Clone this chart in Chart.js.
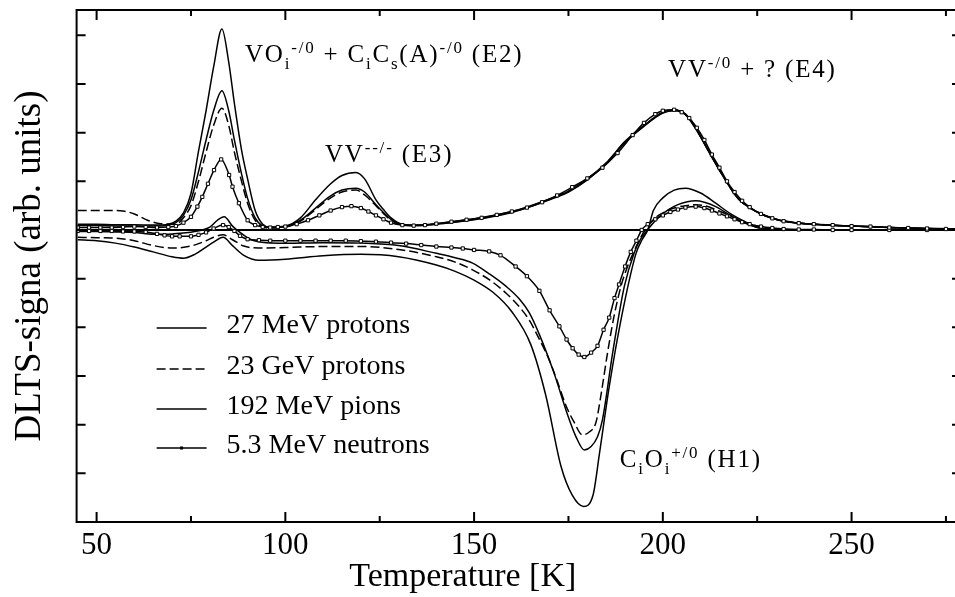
<!DOCTYPE html>
<html>
<head>
<meta charset="utf-8">
<script src="https://cdn.jsdelivr.net/npm/chart.js@4.4.1/dist/chart.umd.min.js"></script>
<style>
  html, body { margin: 0; padding: 0; background: #fff; overflow: hidden; }
  #wrap { width: 955px; height: 597px; }
  #dlts { display: block; }
</style>
</head>
<body>
<div id="wrap"><canvas id="dlts"></canvas></div>
<script>
// ================= DATA (T in K, signal in arb. units) =================
// electron-trap spectra (positive peaks E2, E3, E4)
const upT = [45, 50, 55, 60, 65, 69, 71, 73, 75, 77, 79, 81, 83.2, 85, 86.5, 88.4, 90, 92, 94, 96, 100, 104, 108, 112, 115, 118.7, 121, 124, 126, 128, 131, 135, 140, 150, 160, 170, 175, 180, 185, 190, 195, 200, 203, 206, 209, 212, 216, 220, 225, 230, 235, 240, 250, 260, 270, 279];
const p27Up = [0.12, 0.12, 0.11, 0.11, 0.1, 0.12, 0.18, 0.35, 0.75, 1.62, 2.45, 3.35, 4.13, 3.45, 2.6, 1.64, 1.05, 0.4, 0.12, 0.06, 0.08, 0.25, 0.62, 0.95, 1.12, 1.18, 1.05, 0.62, 0.42, 0.25, 0.12, 0.1, 0.13, 0.23, 0.38, 0.64, 0.8, 1.05, 1.38, 1.82, 2.15, 2.42, 2.47, 2.38, 2.05, 1.64, 1.1, 0.64, 0.37, 0.22, 0.15, 0.12, 0.08, 0.05, 0.03, 0.02];
const pionUp = [0.09, 0.09, 0.08, 0.08, 0.08, 0.1, 0.15, 0.3, 0.62, 1.2, 1.85, 2.45, 2.86, 2.45, 1.85, 1.15, 0.65, 0.25, 0.08, 0.05, 0.07, 0.2, 0.45, 0.7, 0.82, 0.86, 0.78, 0.52, 0.36, 0.22, 0.1, 0.09, 0.12, 0.21, 0.36, 0.62, 0.78, 1.03, 1.36, 1.8, 2.13, 2.4, 2.45, 2.37, 2.04, 1.63, 1.1, 0.64, 0.37, 0.22, 0.15, 0.12, 0.08, 0.05, 0.03, 0.02];

const gevUpT = [45, 50, 55, 57, 60, 63.5, 67, 71, 73, 75, 77, 79, 81, 83.2, 85, 86.5, 88.4, 90, 92, 94, 96, 100, 104, 108, 112, 115, 118.7, 121, 124, 126, 128, 131, 135, 140, 150, 160, 170, 175, 180, 185, 190, 195, 200, 203, 206, 209, 212, 216, 220, 225, 230, 235, 240, 250, 260, 270, 279];
const gevUp = [0.4, 0.4, 0.4, 0.39, 0.33, 0.2, 0.13, 0.12, 0.25, 0.5, 1.0, 1.6, 2.15, 2.5, 2.15, 1.6, 1.0, 0.55, 0.2, 0.06, 0.04, 0.06, 0.18, 0.42, 0.66, 0.78, 0.82, 0.72, 0.5, 0.34, 0.2, 0.1, 0.09, 0.12, 0.22, 0.37, 0.63, 0.79, 1.04, 1.37, 1.81, 2.14, 2.41, 2.46, 2.38, 2.05, 1.64, 1.1, 0.64, 0.37, 0.22, 0.15, 0.12, 0.08, 0.05, 0.03, 0.02];

const neutronUpT = [45, 48, 51, 54, 57, 60, 63, 66, 69, 71, 73, 75, 76.7, 78, 79.5, 81.1, 83, 85.1, 86, 87.7, 90, 92, 94, 96, 98, 100, 103, 106, 109, 112, 115, 117.5, 120, 122, 124, 126, 128, 131, 134, 137, 140, 144, 148, 152, 156, 160, 164, 168, 172, 176, 180, 184, 188, 192, 195, 198, 200, 203, 205, 207, 209, 211, 213, 215, 217, 219, 221, 223, 226, 229, 232, 236, 240, 245, 250, 255, 260, 265, 270, 275, 279];
const neutronUp = [0.05, 0.05, 0.05, 0.05, 0.06, 0.07, 0.06, 0.05, 0.06, 0.08, 0.15, 0.27, 0.48, 0.68, 0.95, 1.23, 1.45, 1.13, 0.89, 0.55, 0.2, 0.1, 0.06, 0.05, 0.06, 0.07, 0.12, 0.2, 0.3, 0.4, 0.47, 0.49, 0.45, 0.38, 0.3, 0.22, 0.15, 0.1, 0.09, 0.1, 0.13, 0.17, 0.21, 0.25, 0.31, 0.38, 0.46, 0.57, 0.71, 0.88, 1.06, 1.28, 1.58, 1.95, 2.2, 2.38, 2.45, 2.47, 2.42, 2.3, 2.1, 1.85, 1.55, 1.28, 1.0, 0.78, 0.6, 0.47, 0.33, 0.24, 0.18, 0.14, 0.12, 0.1, 0.08, 0.07, 0.05, 0.04, 0.03, 0.02, 0.02];

// hole-trap spectra (negative peak H1)
const p27DownT = [45, 50, 55, 60, 65, 70, 73, 76, 79, 81, 83.5, 86, 89, 93, 100, 110, 120, 130, 140, 145, 150, 155, 160, 165, 169, 173, 176, 179, 181.5, 183.2, 185.8, 188.9, 192.9, 194.5, 196, 197.5, 200, 203, 206, 210, 214, 218, 221, 225, 230, 240, 279];
const p27Down = [-0.2, -0.22, -0.27, -0.35, -0.45, -0.55, -0.58, -0.5, -0.35, -0.25, -0.15, -0.32, -0.52, -0.62, -0.6, -0.53, -0.5, -0.55, -0.72, -0.85, -1.03, -1.28, -1.68, -2.35, -3.4, -4.85, -5.45, -5.68, -5.45, -4.6, -3.22, -1.85, -0.48, -0.2, 0.0, 0.4, 0.66, 0.82, 0.86, 0.76, 0.55, 0.33, 0.2, 0.05, 0.01, 0.0, 0.0];

const gevDownT = [45, 50, 55, 60, 65, 70, 75, 79, 81, 83.5, 86, 89, 93, 100, 110, 120, 130, 140, 145, 149.6, 154, 158.5, 162, 164.6, 167, 169.9, 172, 174.3, 176.5, 178.7, 180.5, 182.3, 183.8, 185.3, 187, 188.9, 190.5, 192, 193.7, 195.3, 198, 200, 203, 206, 208.7, 211, 214, 217, 220, 225, 230, 240, 279];
const gevDown = [-0.15, -0.16, -0.17, -0.22, -0.32, -0.37, -0.33, -0.22, -0.15, -0.1, -0.2, -0.33, -0.37, -0.36, -0.34, -0.34, -0.4, -0.55, -0.66, -0.82, -1.02, -1.3, -1.58, -1.85, -2.2, -2.67, -3.1, -3.6, -3.95, -4.21, -4.15, -3.95, -3.3, -2.55, -1.8, -1.16, -0.78, -0.5, -0.22, 0.0, 0.25, 0.35, 0.45, 0.5, 0.52, 0.5, 0.42, 0.32, 0.22, 0.08, 0.02, 0.0, 0.0];

const pionDownT = [45, 50, 55, 60, 65, 70, 76, 80, 82, 83.8, 86, 88, 91, 95, 100, 110, 120, 130, 140, 145, 149.6, 154, 158.5, 162, 164.6, 167.3, 171, 175, 177, 179.2, 181, 182.7, 184, 186.7, 189.8, 192.5, 194.2, 195.9, 199, 201.5, 204, 206.5, 208.7, 211, 214, 217.5, 221, 226, 232, 240, 279];
const pionDown = [-0.03, -0.03, -0.04, -0.05, -0.09, -0.08, -0.03, 0.06, 0.2, 0.27, 0.08, -0.05, -0.2, -0.26, -0.27, -0.26, -0.27, -0.32, -0.48, -0.57, -0.68, -0.9, -1.16, -1.42, -1.7, -2.15, -2.9, -3.85, -4.25, -4.52, -4.45, -4.25, -3.9, -2.53, -1.16, -0.45, -0.18, 0.0, 0.27, 0.42, 0.52, 0.58, 0.6, 0.57, 0.48, 0.32, 0.17, 0.04, 0.01, 0.0, 0.0];

const neutronDownT = [45, 48, 51, 54, 57, 60, 63, 66, 68, 70, 72, 75, 77, 79, 81, 83.5, 85, 86.5, 88, 90, 93, 96, 100, 104, 108, 112, 116, 120, 124, 128, 132, 136, 140, 144, 147, 150, 154, 157, 161, 164, 167.3, 170, 172.6, 174.5, 176.1, 177.7, 179.2, 181, 182.7, 184.3, 185.8, 187.2, 188.4, 190, 191.5, 193, 194.4, 196, 198, 200, 202, 204, 206, 208.7, 211, 213, 215, 217, 219, 221, 223, 226, 229, 232, 236, 240, 245, 250, 260, 270, 279];
const neutronDown = [-0.02, -0.02, -0.02, -0.02, -0.03, -0.03, -0.04, -0.08, -0.11, -0.13, -0.13, -0.13, -0.1, -0.05, 0.03, 0.1, 0.06, -0.02, -0.12, -0.19, -0.21, -0.22, -0.22, -0.22, -0.22, -0.22, -0.22, -0.23, -0.24, -0.26, -0.28, -0.31, -0.34, -0.36, -0.38, -0.41, -0.44, -0.52, -0.75, -0.95, -1.25, -1.65, -1.98, -2.25, -2.43, -2.56, -2.61, -2.52, -2.38, -2.05, -1.8, -1.4, -1.12, -0.75, -0.45, -0.22, 0.0, 0.12, 0.22, 0.3, 0.37, 0.42, 0.46, 0.48, 0.45, 0.4, 0.34, 0.28, 0.22, 0.16, 0.12, 0.07, 0.04, 0.02, 0.01, 0.01, 0.0, 0.0, 0.0, 0.0, 0.0];

// zero line
const zeroT = [44.7, 277.4];
const zeroV = [0, 0];

// axes (the right end of the original axis is cut off by the picture edge)
const xMin = 44.7;
const xMax = 277.4;
const xMajorTicks = [50, 100, 150, 200, 250];
const xMinorTicks = [75, 125, 175, 225, 275];
const yTicks = [-5, -4, -3, -2, -1, 0, 1, 2, 3, 4];

// legend
const legendNames = ["27 MeV protons", "23 GeV protons", "192 MeV pions", "5.3 MeV neutrons"];

// peak labels: [text, "" | "sub" | "sup"]
const labelE2 = [["VO", ""], ["i", "sub"], ["-/0", "sup"], [" + C", ""], ["i", "sub"], ["C", ""], ["s", "sub"], ["(A)", ""], ["-/0", "sup"], [" (E2)", ""]];
const labelE3 = [["VV", ""], ["--/-", "sup"], [" (E3)", ""]];
const labelE4 = [["VV", ""], ["-/0", "sup"], [" + ? (E4)", ""]];
const labelH1 = [["C", ""], ["i", "sub"], ["O", ""], ["i", "sub"], ["+/0", "sup"], [" (H1)", ""]];

// ================= HELPERS =================
const FONT = "'Liberation Serif', 'Times New Roman', serif";
const DASH = [9, 4];

function pts(ts, vs) {
  return ts.map((t, i) => ({ x: t, y: vs[i] }));
}

function curve(label, ts, vs, dash, marks) {
  return {
    label: label,
    data: pts(ts, vs),
    borderColor: "#000",
    borderWidth: 1.5,
    borderDash: dash,
    pointRadius: marks ? 2.3 : 0,
    pointStyle: "rect",
    pointBackgroundColor: "#fff",
    pointBorderColor: "#000",
    pointBorderWidth: 1,
    cubicInterpolationMode: "monotone",
    fill: false
  };
}

function drawRich(ctx, segs, x0, y0) {
  let cx = x0;
  segs.forEach(([txt, kind]) => {
    ctx.font = (kind ? 17 : 25) + "px " + FONT;
    const dy = kind === "sub" ? 7 : kind === "sup" ? -9 : 0;
    ctx.fillText(txt, cx, y0 + dy);
    cx += ctx.measureText(txt).width;
  });
}

// frame with inward ticks; right frame line lies just outside the picture
const framePlugin = {
  id: "frame",
  afterDatasetsDraw(chart) {
    const { ctx, chartArea: a, scales: { x, y } } = chart;
    ctx.save();
    ctx.strokeStyle = "#000";
    ctx.lineWidth = 2;
    ctx.beginPath();
    ctx.moveTo(a.right + 2, a.top);
    ctx.lineTo(a.left, a.top);
    ctx.lineTo(a.left, a.bottom);
    ctx.lineTo(a.right + 2, a.bottom);
    const xt = (list, len) => list.forEach(t => {
      const px = x.getPixelForValue(t);
      ctx.moveTo(px, a.bottom); ctx.lineTo(px, a.bottom - len);
      ctx.moveTo(px, a.top); ctx.lineTo(px, a.top + len);
    });
    xt(xMajorTicks, 10);
    xt(xMinorTicks, 6);
    yTicks.forEach(v => {
      const py = y.getPixelForValue(v);
      ctx.moveTo(a.left, py); ctx.lineTo(a.left + 9, py);
      ctx.moveTo(a.right + 1, py); ctx.lineTo(a.right - 3, py);
    });
    ctx.stroke();
    ctx.restore();
  }
};

// peak labels, x title and legend drawn by hand
const textPlugin = {
  id: "texts",
  afterDraw(chart) {
    const { ctx, chartArea: a, scales: { x, y } } = chart;
    ctx.save();
    ctx.fillStyle = "#000";
    ctx.textBaseline = "alphabetic";
    ctx.textAlign = "left";
    if ("letterSpacing" in ctx) ctx.letterSpacing = "1.8px";
    drawRich(ctx, labelE2, x.getPixelForValue(89.3), y.getPixelForValue(3.46));
    drawRich(ctx, labelE3, x.getPixelForValue(110.5), y.getPixelForValue(1.40));
    drawRich(ctx, labelE4, x.getPixelForValue(201.4), y.getPixelForValue(3.15));
    drawRich(ctx, labelH1, x.getPixelForValue(188.6), y.getPixelForValue(-4.86));
    if ("letterSpacing" in ctx) ctx.letterSpacing = "0px";

    // x axis title (sits left of centre in the original)
    ctx.font = "34px " + FONT;
    ctx.textAlign = "center";
    ctx.fillText("Temperature [K]", x.getPixelForValue(147), a.bottom + 64);

    // legend
    ctx.textAlign = "left";
    const lx0 = a.left + 80, lx1 = a.left + 130, tx = a.left + 150;
    const rowY = [a.top + 318, a.top + 359, a.top + 399, a.top + 438];
    ctx.strokeStyle = "#000";
    ctx.lineWidth = 1.6;
    ctx.textBaseline = "middle";
    ctx.font = "28px " + FONT;
    legendNames.forEach((name, i) => {
      ctx.setLineDash(i === 1 ? DASH : []);
      ctx.beginPath();
      ctx.moveTo(lx0, rowY[i]);
      ctx.lineTo(lx1, rowY[i]);
      ctx.stroke();
      ctx.setLineDash([]);
      if (i === 3) ctx.fillRect((lx0 + lx1) / 2 - 1.5, rowY[i] - 1.5, 3, 3);
      ctx.fillText(name, tx, rowY[i] - 2);
    });
    ctx.restore();
  }
};

// ================= CHART =================
const ctx = document.getElementById("dlts").getContext("2d");

window.dltsChart = new Chart(ctx, {
  type: "line",
  data: {
    datasets: [
      curve("5.3 MeV neutrons", neutronUpT, neutronUp, [], true),
      curve("5.3 MeV neutrons (H)", neutronDownT, neutronDown, [], true),
      curve("27 MeV protons", upT, p27Up, [], false),
      curve("27 MeV protons (H)", p27DownT, p27Down, [], false),
      curve("23 GeV protons", gevUpT, gevUp, DASH, false),
      curve("23 GeV protons (H)", gevDownT, gevDown, DASH, false),
      curve("192 MeV pions", upT, pionUp, [], false),
      curve("192 MeV pions (H)", pionDownT, pionDown, [], false),
      Object.assign(curve("zero", zeroT, zeroV, [], false), { borderWidth: 2, cubicInterpolationMode: "default" })
    ]
  },
  options: {
    responsive: true,
    maintainAspectRatio: false,
    animation: false,
    events: [],
    devicePixelRatio: 1,
    layout: { autoPadding: false, padding: { left: 0, right: 0, top: 10, bottom: 0 } },
    plugins: {
      legend: { display: false },
      tooltip: { enabled: false }
    },
    scales: {
      x: {
        type: "linear",
        min: xMin,
        max: xMax,
        afterBuildTicks: s => { s.ticks = xMajorTicks.map(v => ({ value: v })); },
        afterFit: s => { s.height = 75; },
        ticks: {
          color: "#000",
          padding: 8,
          maxRotation: 0,
          font: { family: FONT, size: 31, lineHeight: 1 }
        },
        grid: { display: false, drawTicks: false },
        border: { display: false }
      },
      y: {
        min: -6,
        max: 4.52,
        afterFit: s => { s.width = 76.6; },
        ticks: { display: false },
        grid: { display: false, drawTicks: false },
        border: { display: false },
        title: {
          display: true,
          text: "DLTS-signa (arb. units)",
          color: "#000",
          padding: { top: 8, bottom: 24 },
          font: { family: FONT, size: 37, lineHeight: 1.2 }
        }
      }
    }
  },
  plugins: [framePlugin, textPlugin]
});
</script>
</body>
</html>
